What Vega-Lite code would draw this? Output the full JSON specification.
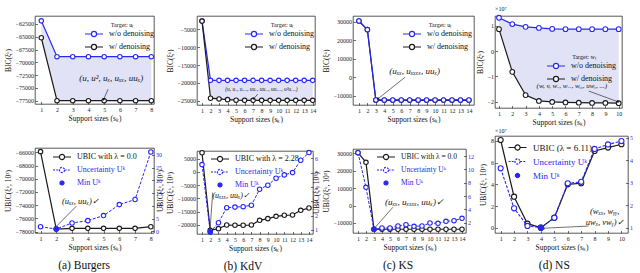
{
"$schema":"https://vega.github.io/schema/vega-lite/v6.json",
"padding":{"left":3,"top":3,"right":0,"bottom":0},
"config":{
 "font":"Liberation Serif",
 "view":{"stroke":"#111","strokeWidth":0.7},
 "axis":{"labelFont":"Liberation Serif","titleFont":"Liberation Serif","labelFontSize":6,"titleFontSize":7.5,"titleFontWeight":"normal","labelColor":"#222","titleColor":"#111","grid":false,"domain":false,"tickSize":-2.5,"tickWidth":0.6,"tickColor":"#111","labelFlush":false,"labelOverlap":false,"titlePadding":3},
 "axisX":{"labelPadding":5,"titlePadding":2},
 "axisY":{"labelPadding":4},
 "legend":{"labelFont":"Liberation Serif","titleFont":"Liberation Serif","labelFontSize":8,"titleFontSize":6,"titleFontWeight":"normal","labelColor":"#111","titleColor":"#111","padding":0,"rowPadding":3,"labelOffset":11,"titlePadding":2,"symbolStrokeWidth":1.2},
 "title":{"font":"Liberation Serif","fontWeight":"normal","color":"#111"}
},
"datasets":{
"top":[
{"p":"a","s":1,"wo":-61900,"w":-65200},{"p":"a","s":2,"wo":-68900,"w":-77500},{"p":"a","s":3,"wo":-68900,"w":-77500},{"p":"a","s":4,"wo":-68900,"w":-77500},{"p":"a","s":5,"wo":-68900,"w":-77500},{"p":"a","s":6,"wo":-68900,"w":-77500},{"p":"a","s":7,"wo":-68900,"w":-77500},{"p":"a","s":8,"wo":-68900,"w":-77500},
{"p":"b","s":1,"wo":-2700,"w":-2700},{"p":"b","s":2,"wo":-19300,"w":-24300},{"p":"b","s":3,"wo":-19300,"w":-24500},{"p":"b","s":4,"wo":-19300,"w":-24700},{"p":"b","s":5,"wo":-19300,"w":-24850},{"p":"b","s":6,"wo":-19300,"w":-24900},{"p":"b","s":7,"wo":-19300,"w":-24900},{"p":"b","s":8,"wo":-19300,"w":-24900},{"p":"b","s":9,"wo":-19300,"w":-24900},{"p":"b","s":10,"wo":-19300,"w":-24900},{"p":"b","s":11,"wo":-19300,"w":-24900},{"p":"b","s":12,"wo":-19300,"w":-24900},{"p":"b","s":13,"wo":-19300,"w":-24900},{"p":"b","s":14,"wo":-19300,"w":-24900},
{"p":"c","s":1,"wo":30400,"w":30400},{"p":"c","s":2,"wo":25700,"w":25700},{"p":"c","s":3,"wo":-12300,"w":-12500},{"p":"c","s":4,"wo":-12300,"w":-12500},{"p":"c","s":5,"wo":-12300,"w":-12500},{"p":"c","s":6,"wo":-12300,"w":-12500},{"p":"c","s":7,"wo":-12300,"w":-12500},{"p":"c","s":8,"wo":-12300,"w":-12500},{"p":"c","s":9,"wo":-12300,"w":-12500},{"p":"c","s":10,"wo":-12300,"w":-12500},{"p":"c","s":11,"wo":-12300,"w":-12500},{"p":"c","s":12,"wo":-12300,"w":-12500},{"p":"c","s":13,"wo":-12300,"w":-12500},{"p":"c","s":14,"wo":-12300,"w":-12500},
{"p":"d","s":1,"wo":1.32,"w":0.87},{"p":"d","s":2,"wo":1.07,"w":-0.82},{"p":"d","s":3,"wo":0.96,"w":-1.74},{"p":"d","s":4,"wo":0.92,"w":-1.97},{"p":"d","s":5,"wo":0.88,"w":-2.01},{"p":"d","s":6,"wo":0.87,"w":-2.03},{"p":"d","s":7,"wo":0.87,"w":-2.04},{"p":"d","s":8,"wo":0.87,"w":-2.05},{"p":"d","s":9,"wo":0.87,"w":-2.05},{"p":"d","s":10,"wo":0.87,"w":-2.06}
],
"bot":[
{"p":"a","s":1,"ubic":-65900,"unc":1.83},{"p":"a","s":2,"ubic":-77600,"unc":0.9},{"p":"a","s":3,"ubic":-77500,"unc":3.3},{"p":"a","s":4,"ubic":-77500,"unc":4.2},{"p":"a","s":5,"ubic":-77500,"unc":6.2},{"p":"a","s":6,"ubic":-77500,"unc":10.5},{"p":"a","s":7,"ubic":-77500,"unc":12.5},{"p":"a","s":8,"ubic":-77250,"unc":31.2},
{"p":"b","s":1,"ubic":7260,"unc":5.57},{"p":"b","s":2,"ubic":-22000,"unc":0.86},{"p":"b","s":3,"ubic":-21380,"unc":1.51},{"p":"b","s":4,"ubic":-20000,"unc":2.56},{"p":"b","s":5,"ubic":-20120,"unc":2.6},{"p":"b","s":6,"ubic":-20120,"unc":2.63},{"p":"b","s":7,"ubic":-20000,"unc":2.73},{"p":"b","s":8,"ubic":-18240,"unc":3.85},{"p":"b","s":9,"ubic":-17610,"unc":4.13},{"p":"b","s":10,"ubic":-16730,"unc":4.62},{"p":"b","s":11,"ubic":-16350,"unc":4.85},{"p":"b","s":12,"ubic":-16230,"unc":5.01},{"p":"b","s":13,"ubic":-14470,"unc":5.87},{"p":"b","s":14,"ubic":-13590,"unc":6.41},
{"p":"c","s":1,"ubic":30350,"unc":12.5},{"p":"c","s":2,"ubic":24830,"unc":7.3},{"p":"c","s":3,"ubic":-13600,"unc":1.0},{"p":"c","s":4,"ubic":-13600,"unc":1.2},{"p":"c","s":5,"ubic":-13600,"unc":1.2},{"p":"c","s":6,"ubic":-13600,"unc":1.5},{"p":"c","s":7,"ubic":-13600,"unc":1.7},{"p":"c","s":8,"ubic":-13600,"unc":1.45},{"p":"c","s":9,"ubic":-13600,"unc":1.5},{"p":"c","s":10,"ubic":-13600,"unc":1.95},{"p":"c","s":11,"ubic":-13600,"unc":1.9},{"p":"c","s":12,"ubic":-13600,"unc":2.2},{"p":"c","s":13,"ubic":-13600,"unc":2.3},{"p":"c","s":14,"ubic":-13600,"unc":2.65},
{"p":"d","s":1,"ubic":8.09,"unc":3.64},{"p":"d","s":2,"ubic":2.86,"unc":1.86},{"p":"d","s":3,"ubic":0.37,"unc":1.08},{"p":"d","s":4,"ubic":0.0,"unc":1.0},{"p":"d","s":5,"ubic":0.92,"unc":1.44},{"p":"d","s":6,"ubic":4.0,"unc":2.97},{"p":"d","s":7,"ubic":4.1,"unc":3.04},{"p":"d","s":8,"ubic":7.08,"unc":4.5},{"p":"d","s":9,"ubic":7.39,"unc":4.7},{"p":"d","s":10,"ubic":7.7,"unc":4.85}
],
"ann":[
{"p":"a1","tx":5.45,"ty":-73060,"ax":5.25,"ay":-75270,"bx":4.97,"by":-77220,"label":"(u, u², uₓ, uₓₓ, uuₓ)"},
{"p":"a2","tx":3.53,"ty":-73400,"ax":3.27,"ay":-74150,"bx":1.95,"by":-77330,"label":"(uₓₓ, uuₓ)✓"},
{"p":"b1","tx":7.98,"ty":-21800,"ax":7.55,"ay":-23120,"bx":7.08,"by":-24430,"label":"(u, uₓ, uₓₓₓ, uuₓ, uuₓₓ, uuₓₓₓ, u²uₓₓₓ)"},
{"p":"b2","tx":4.54,"ty":-9060,"ax":2.3,"ay":-7740,"bx":1.98,"by":-21600,"label":"(uₓₓₓ, uuₓ)✓"},
{"p":"c1","tx":7.58,"ty":3350,"ax":6.44,"ay":-50,"bx":3.27,"by":-11600,"label":"(uₓₓ, uₓₓₓₓ, uuₓ)"},
{"p":"c2","tx":8.06,"ty":2220,"ax":5.36,"ay":-1000,"bx":3.08,"by":-12900,"label":"(uₓₓ, uₓₓₓₓ, uuₓ)✓"},
{"p":"d1","tx":6.48,"ty":-1.38,"ax":7.75,"ay":-1.58,"bx":9.93,"by":-2.0,"label":"(w, v, wₓ, wₓₓ, wᵧᵧ, uwᵧ, ...)"},
{"p":"d2","tx":8.75,"ty":1.5,"ax":7.55,"ay":0.15,"bx":4.19,"by":-0.05,"label":"(wₓₓ, wᵧᵧ,\nuwₓ, vwᵧ)✓"}
]
},
"spacing":0,
"resolve":{"scale":{"stroke":"independent"},"legend":{"stroke":"independent"}},
"hconcat":[
{"title":{"text":"(a) Burgers","orient":"bottom","anchor":"middle","fontSize":11.5,"offset":9},"spacing":23,"resolve":{"scale":{"stroke":"independent"},"legend":{"stroke":"independent"}},"vconcat":[
 {"width":119,"height":88,"title":{"text":" ","fontSize":6,"offset":6},"data":{"name":"top"},"transform":[{"filter":"datum.p === 'a'"}],
  "encoding":{"x":{"field":"s","type":"quantitative","scale":{"domain":[0.6,8.17],"nice":false,"zero":false},"axis":{"values":[1,2,3,4,5,6,7,8],"tickCount":50,"format":"d"},"title":"Support sizes (sₖ)"}},
  "layer":[
   {"mark":{"type":"area","color":"#e2e2f7","opacity":1},"encoding":{"y":{"field":"wo","type":"quantitative","scale":{"domain":[-78150,-60950],"nice":false,"zero":false},"axis":{"values":[-77500,-75000,-72500,-70000,-67500,-65000,-62500],"format":"d","tickCount":50},"title":"BIC(ξᵏ)"},"y2":{"field":"w"}}},
   {"mark":{"type":"line","strokeWidth":1.2},"encoding":{"y":{"field":"wo","type":"quantitative","title":"BIC(ξᵏ)"},"stroke":{"datum":"w/o denoising","type":"nominal","scale":{"domain":["w/o denoising","w/ denoising"],"range":["#2828f5","#1a1a1a"]},"legend":{"orient":"none","legendX":55,"legendY":6,"title":"Target: uₜ","titleAnchor":"middle","symbolType":"M-3,0H-0.85M0.85,0H3M0.85,0A0.85,0.85,0,1,1,-0.85,0A0.85,0.85,0,1,1,0.85,0Z","symbolSize":36,"encode":{"symbols":{"update":{"fill":{"value":"white"},"shape":{"value":"M-3,0H-0.85M0.85,0H3M0.85,0A0.85,0.85,0,1,1,-0.85,0A0.85,0.85,0,1,1,0.85,0Z"}}}}}}}},
   {"mark":{"type":"line","strokeWidth":1.2},"encoding":{"y":{"field":"w","type":"quantitative","title":"BIC(ξᵏ)"},"stroke":{"datum":"w/ denoising","type":"nominal"}}},
   {"mark":{"type":"point","shape":"circle","filled":true,"fill":"white","strokeWidth":1.1,"size":20,"opacity":1},"encoding":{"y":{"field":"w","type":"quantitative","title":"BIC(ξᵏ)"},"stroke":{"datum":"w/ denoising","type":"nominal"}}},
   {"mark":{"type":"point","shape":"circle","filled":true,"fill":"white","strokeWidth":1.1,"size":20,"opacity":1},"encoding":{"y":{"field":"wo","type":"quantitative","title":"BIC(ξᵏ)"},"stroke":{"datum":"w/o denoising","type":"nominal"}}},
   {"data":{"name":"ann"},"transform":[{"filter":"datum.p === 'a1'"}],"layer":[
    {"mark":{"type":"rule","color":"#111","strokeWidth":0.6},"encoding":{"x":{"field":"ax","type":"quantitative","title":"Support sizes (sₖ)"},"y":{"field":"ay","type":"quantitative","title":"BIC(ξᵏ)"},"x2":{"field":"bx"},"y2":{"field":"by"}}},
    {"mark":{"type":"point","shape":"triangle","filled":true,"color":"#111","size":9,"opacity":1,"angle":203},"encoding":{"x":{"field":"bx","type":"quantitative","title":"Support sizes (sₖ)"},"y":{"field":"by","type":"quantitative","title":"BIC(ξᵏ)"}}},
    {"mark":{"type":"text","fontStyle":"italic","fontSize":9,"color":"#111"},"encoding":{"x":{"field":"tx","type":"quantitative","title":"Support sizes (sₖ)"},"y":{"field":"ty","type":"quantitative","title":"BIC(ξᵏ)"},"text":{"field":"label"}}}
   ]}
  ]},
 {"width":119,"height":85,"data":{"name":"bot"},"transform":[{"filter":"datum.p === 'a'"}],
  "encoding":{"x":{"field":"s","type":"quantitative","scale":{"domain":[0.65,8.2],"nice":false,"zero":false},"axis":{"values":[1,2,3,4,5,6,7,8],"tickCount":50,"format":"d"},"title":"Support sizes (sₖ)"}},
  "layer":[
   {"layer":[
    {"mark":{"type":"line","strokeWidth":1.2},"encoding":{"y":{"field":"ubic","type":"quantitative","scale":{"domain":[-78200,-65350],"nice":false,"zero":false},"axis":{"values":[-78000,-76000,-74000,-72000,-70000,-68000,-66000],"format":"d","tickCount":50},"title":"UBIC(ξᵏ, 10³)"},"stroke":{"datum":"UBIC with λ = 0.0","type":"nominal","scale":{"domain":["UBIC with λ = 0.0","Uncertainty Uᵏ","Min Uᵏ"],"range":["#1a1a1a","#2828f5","#2828f5"]},"legend":{"orient":"none","legendX":23,"legendY":5,"title":null,"symbolType":"M-3,0H-0.85M0.85,0H3M0.85,0A0.85,0.85,0,1,1,-0.85,0A0.85,0.85,0,1,1,0.85,0Z","symbolSize":36,"encode":{"symbols":{"update":{"shape":{"signal":"datum.value === 'Min Uᵏ' ? 'circle' : 'M-3,0H-0.85M0.85,0H3M0.85,0A0.85,0.85,0,1,1,-0.85,0A0.85,0.85,0,1,1,0.85,0Z'"},"size":{"signal":"datum.value === 'Min Uᵏ' ? 16 : 36"},"fill":{"signal":"datum.value === 'Min Uᵏ' ? '#2828f5' : 'white'"},"strokeDash":{"signal":"datum.value === 'Uncertainty Uᵏ' ? [2, 1.2] : [1, 0]"}}},"labels":{"update":{"fill":{"signal":"datum.value === 'Uncertainty Uᵏ' || datum.value === 'Min Uᵏ' ? '#2828f5' : '#111111'"}}}}}}}},
    {"mark":{"type":"point","shape":"circle","filled":true,"fill":"white","strokeWidth":1.1,"size":20,"opacity":1},"encoding":{"y":{"field":"ubic","type":"quantitative","title":"UBIC(ξᵏ, 10³)"},"stroke":{"datum":"UBIC with λ = 0.0","type":"nominal"}}},
    {"data":{"name":"ann"},"transform":[{"filter":"datum.p === 'a2'"}],"layer":[
     {"mark":{"type":"rule","color":"#111","strokeWidth":0.6},"encoding":{"x":{"field":"ax","type":"quantitative","title":"Support sizes (sₖ)"},"y":{"field":"ay","type":"quantitative","title":"UBIC(ξᵏ, 10³)"},"x2":{"field":"bx"},"y2":{"field":"by"}}},
     {"mark":{"type":"point","shape":"triangle","filled":true,"color":"#111","size":9,"opacity":1,"angle":225},"encoding":{"x":{"field":"bx","type":"quantitative","title":"Support sizes (sₖ)"},"y":{"field":"by","type":"quantitative","title":"UBIC(ξᵏ, 10³)"}}},
     {"mark":{"type":"text","fontStyle":"italic","fontSize":8.5,"color":"#111"},"encoding":{"x":{"field":"tx","type":"quantitative","title":"Support sizes (sₖ)"},"y":{"field":"ty","type":"quantitative","title":"UBIC(ξᵏ, 10³)"},"text":{"field":"label"}}}
    ]}
   ]},
   {"layer":[
    {"mark":{"type":"line","strokeWidth":1,"strokeDash":[3,1.5]},"encoding":{"y":{"field":"unc","type":"quantitative","scale":{"domain":[-0.65,32.75],"nice":false,"zero":false},"axis":{"orient":"right","values":[0,5,10,15,20,25,30],"format":"d","labelColor":"#2828f5","titleAngle":270,"tickCount":50},"title":"UBIC(ξᵏ, 10³)"},"stroke":{"datum":"Uncertainty Uᵏ","type":"nominal"}}},
    {"mark":{"type":"point","shape":"circle","filled":true,"fill":"white","strokeWidth":1.1,"size":20,"opacity":1},"encoding":{"y":{"field":"unc","type":"quantitative","title":"UBIC(ξᵏ, 10³)"},"stroke":{"datum":"Uncertainty Uᵏ","type":"nominal"}}},
    {"transform":[{"joinaggregate":[{"op":"min","field":"unc","as":"mn"}]},{"filter":"datum.unc === datum.mn"}],"mark":{"type":"point","shape":"circle","filled":true,"fill":"#2828f5","strokeWidth":0.8,"size":22,"opacity":1},"encoding":{"y":{"field":"unc","type":"quantitative","title":"UBIC(ξᵏ, 10³)"},"stroke":{"datum":"Min Uᵏ","type":"nominal"}}}
   ]}
  ],
  "resolve":{"scale":{"y":"independent"}}}
]},
{"title":{"text":"(b) KdV","orient":"bottom","anchor":"middle","fontSize":11.5,"offset":9},"spacing":23,"resolve":{"scale":{"stroke":"independent"},"legend":{"stroke":"independent"}},"vconcat":[
 {"width":118,"height":89,"title":{"text":" ","fontSize":6,"offset":6},"data":{"name":"top"},"transform":[{"filter":"datum.p === 'b'"}],
  "encoding":{"x":{"field":"s","type":"quantitative","scale":{"domain":[0.41,14.27],"nice":false,"zero":false},"axis":{"values":[1,2,3,4,5,6,7,8,9,10,11,12,13,14],"tickCount":50,"format":"d"},"title":"Support sizes (sₖ)"}},
  "layer":[
   {"mark":{"type":"area","color":"#e2e2f7","opacity":1},"encoding":{"y":{"field":"wo","type":"quantitative","scale":{"domain":[-26200,-1270],"nice":false,"zero":false},"axis":{"values":[-25000,-20000,-15000,-10000,-5000],"format":"d","tickCount":50},"title":"BIC(ξᵏ)"},"y2":{"field":"w"}}},
   {"mark":{"type":"line","strokeWidth":1.2},"encoding":{"y":{"field":"wo","type":"quantitative","title":"BIC(ξᵏ)"},"stroke":{"datum":"w/o denoising","type":"nominal","scale":{"domain":["w/o denoising","w/ denoising"],"range":["#2828f5","#1a1a1a"]},"legend":{"orient":"none","legendX":53,"legendY":6,"title":"Target: uₜ","titleAnchor":"middle","symbolType":"M-3,0H-0.85M0.85,0H3M0.85,0A0.85,0.85,0,1,1,-0.85,0A0.85,0.85,0,1,1,0.85,0Z","symbolSize":36,"encode":{"symbols":{"update":{"fill":{"value":"white"},"shape":{"value":"M-3,0H-0.85M0.85,0H3M0.85,0A0.85,0.85,0,1,1,-0.85,0A0.85,0.85,0,1,1,0.85,0Z"}}}}}}}},
   {"mark":{"type":"line","strokeWidth":1.2},"encoding":{"y":{"field":"w","type":"quantitative","title":"BIC(ξᵏ)"},"stroke":{"datum":"w/ denoising","type":"nominal"}}},
   {"mark":{"type":"point","shape":"circle","filled":true,"fill":"white","strokeWidth":1.1,"size":20,"opacity":1},"encoding":{"y":{"field":"wo","type":"quantitative","title":"BIC(ξᵏ)"},"stroke":{"datum":"w/o denoising","type":"nominal"}}},
   {"mark":{"type":"point","shape":"circle","filled":true,"fill":"white","strokeWidth":1.1,"size":20,"opacity":1},"encoding":{"y":{"field":"w","type":"quantitative","title":"BIC(ξᵏ)"},"stroke":{"datum":"w/ denoising","type":"nominal"}}},
   {"data":{"name":"ann"},"transform":[{"filter":"datum.p === 'b1'"}],"layer":[
    {"mark":{"type":"rule","color":"#111","strokeWidth":0.6},"encoding":{"x":{"field":"ax","type":"quantitative","title":"Support sizes (sₖ)"},"y":{"field":"ay","type":"quantitative","title":"BIC(ξᵏ)"},"x2":{"field":"bx"},"y2":{"field":"by"}}},
    {"mark":{"type":"point","shape":"triangle","filled":true,"color":"#111","size":7,"opacity":1,"angle":220},"encoding":{"x":{"field":"bx","type":"quantitative","title":"Support sizes (sₖ)"},"y":{"field":"by","type":"quantitative","title":"BIC(ξᵏ)"}}},
    {"mark":{"type":"text","fontStyle":"italic","fontSize":5.5,"color":"#111"},"encoding":{"x":{"field":"tx","type":"quantitative","title":"Support sizes (sₖ)"},"y":{"field":"ty","type":"quantitative","title":"BIC(ξᵏ)"},"text":{"field":"label"}}}
   ]}
  ]},
 {"width":116,"height":83,"data":{"name":"bot"},"transform":[{"filter":"datum.p === 'b'"}],
  "encoding":{"x":{"field":"s","type":"quantitative","scale":{"domain":[0.39,14.49],"nice":false,"zero":false},"axis":{"values":[1,2,3,4,5,6,7,8,9,10,11,12,13,14],"tickCount":50,"format":"d"},"title":"Support sizes (sₖ)"}},
  "layer":[
   {"layer":[
    {"mark":{"type":"line","strokeWidth":1.2},"encoding":{"y":{"field":"ubic","type":"quantitative","scale":{"domain":[-23400,7900],"nice":false,"zero":false},"axis":{"values":[-20000,-15000,-10000,-5000,0,5000],"format":"d","tickCount":50},"title":"UBIC(ξᵏ, 10³)"},"stroke":{"datum":"UBIC with λ = 2.28","type":"nominal","scale":{"domain":["UBIC with λ = 2.28","Uncertainty Uᵏ","Min Uᵏ"],"range":["#1a1a1a","#2828f5","#2828f5"]},"legend":{"orient":"none","legendX":19,"legendY":4,"title":null,"symbolType":"M-3,0H-0.85M0.85,0H3M0.85,0A0.85,0.85,0,1,1,-0.85,0A0.85,0.85,0,1,1,0.85,0Z","symbolSize":36,"encode":{"symbols":{"update":{"shape":{"signal":"datum.value === 'Min Uᵏ' ? 'circle' : 'M-3,0H-0.85M0.85,0H3M0.85,0A0.85,0.85,0,1,1,-0.85,0A0.85,0.85,0,1,1,0.85,0Z'"},"size":{"signal":"datum.value === 'Min Uᵏ' ? 16 : 36"},"fill":{"signal":"datum.value === 'Min Uᵏ' ? '#2828f5' : 'white'"},"strokeDash":{"signal":"datum.value === 'Uncertainty Uᵏ' ? [2, 1.2] : [1, 0]"}}},"labels":{"update":{"fill":{"signal":"datum.value === 'Uncertainty Uᵏ' || datum.value === 'Min Uᵏ' ? '#2828f5' : '#111111'"}}}}}}}},
    {"mark":{"type":"point","shape":"circle","filled":true,"fill":"white","strokeWidth":1.1,"size":20,"opacity":1},"encoding":{"y":{"field":"ubic","type":"quantitative","title":"UBIC(ξᵏ, 10³)"},"stroke":{"datum":"UBIC with λ = 2.28","type":"nominal"}}},
    {"data":{"name":"ann"},"transform":[{"filter":"datum.p === 'b2'"}],"layer":[
     {"mark":{"type":"rule","color":"#111","strokeWidth":0.6},"encoding":{"x":{"field":"ax","type":"quantitative","title":"Support sizes (sₖ)"},"y":{"field":"ay","type":"quantitative","title":"UBIC(ξᵏ, 10³)"},"x2":{"field":"bx"},"y2":{"field":"by"}}},
     {"mark":{"type":"point","shape":"triangle","filled":true,"color":"#111","size":9,"opacity":1,"angle":184},"encoding":{"x":{"field":"bx","type":"quantitative","title":"Support sizes (sₖ)"},"y":{"field":"by","type":"quantitative","title":"UBIC(ξᵏ, 10³)"}}},
     {"mark":{"type":"text","fontStyle":"italic","fontSize":8,"color":"#111"},"encoding":{"x":{"field":"tx","type":"quantitative","title":"Support sizes (sₖ)"},"y":{"field":"ty","type":"quantitative","title":"UBIC(ξᵏ, 10³)"},"text":{"field":"label"}}}
    ]}
   ]},
   {"layer":[
    {"mark":{"type":"line","strokeWidth":1,"strokeDash":[3,1.5]},"encoding":{"y":{"field":"unc","type":"quantitative","scale":{"domain":[0.72,6.52],"nice":false,"zero":false},"axis":{"orient":"right","values":[1,2,3,4,5,6],"format":"d","labelColor":"#2828f5","titleAngle":270,"tickCount":50},"title":"UBIC(ξᵏ, 10³)"},"stroke":{"datum":"Uncertainty Uᵏ","type":"nominal"}}},
    {"mark":{"type":"point","shape":"circle","filled":true,"fill":"white","strokeWidth":1.1,"size":20,"opacity":1},"encoding":{"y":{"field":"unc","type":"quantitative","title":"UBIC(ξᵏ, 10³)"},"stroke":{"datum":"Uncertainty Uᵏ","type":"nominal"}}},
    {"transform":[{"joinaggregate":[{"op":"min","field":"unc","as":"mn"}]},{"filter":"datum.unc === datum.mn"}],"mark":{"type":"point","shape":"circle","filled":true,"fill":"#2828f5","strokeWidth":0.8,"size":22,"opacity":1},"encoding":{"y":{"field":"unc","type":"quantitative","title":"UBIC(ξᵏ, 10³)"},"stroke":{"datum":"Min Uᵏ","type":"nominal"}}}
   ]}
  ],
  "resolve":{"scale":{"y":"independent"}}}
]},
{"title":{"text":"(c) KS","orient":"bottom","anchor":"middle","fontSize":11.5,"offset":9},"spacing":23,"resolve":{"scale":{"stroke":"independent"},"legend":{"stroke":"independent"}},"vconcat":[
 {"width":121,"height":89,"title":{"text":" ","fontSize":6,"offset":6},"data":{"name":"top"},"transform":[{"filter":"datum.p === 'c'"}],
  "encoding":{"x":{"field":"s","type":"quantitative","scale":{"domain":[0.3,14.6],"nice":false,"zero":false},"axis":{"values":[1,2,3,4,5,6,7,8,9,10,11,12,13,14],"tickCount":50,"format":"d"},"title":"Support sizes (sₖ)"}},
  "layer":[
   {"mark":{"type":"area","color":"#e2e2f7","opacity":1},"encoding":{"y":{"field":"wo","type":"quantitative","scale":{"domain":[-15030,33080],"nice":false,"zero":false},"axis":{"values":[-10000,0,10000,20000,30000],"format":"d","tickCount":50},"title":"BIC(ξᵏ)"},"y2":{"field":"w"}}},
   {"mark":{"type":"line","strokeWidth":1.2},"encoding":{"y":{"field":"w","type":"quantitative","title":"BIC(ξᵏ)"},"stroke":{"datum":"w/ denoising","type":"nominal"}}},
   {"mark":{"type":"line","strokeWidth":1.2},"encoding":{"y":{"field":"wo","type":"quantitative","title":"BIC(ξᵏ)"},"stroke":{"datum":"w/o denoising","type":"nominal","scale":{"domain":["w/o denoising","w/ denoising"],"range":["#2828f5","#1a1a1a"]},"legend":{"orient":"none","legendX":55,"legendY":6,"title":"Target: uₜ","titleAnchor":"middle","symbolType":"M-3,0H-0.85M0.85,0H3M0.85,0A0.85,0.85,0,1,1,-0.85,0A0.85,0.85,0,1,1,0.85,0Z","symbolSize":36,"encode":{"symbols":{"update":{"fill":{"value":"white"},"shape":{"value":"M-3,0H-0.85M0.85,0H3M0.85,0A0.85,0.85,0,1,1,-0.85,0A0.85,0.85,0,1,1,0.85,0Z"}}}}}}}},
   {"mark":{"type":"point","shape":"circle","filled":true,"fill":"white","strokeWidth":1.1,"size":20,"opacity":1},"encoding":{"y":{"field":"w","type":"quantitative","title":"BIC(ξᵏ)"},"stroke":{"datum":"w/ denoising","type":"nominal"}}},
   {"mark":{"type":"point","shape":"circle","filled":true,"fill":"white","strokeWidth":1.1,"size":20,"opacity":1},"encoding":{"y":{"field":"wo","type":"quantitative","title":"BIC(ξᵏ)"},"stroke":{"datum":"w/o denoising","type":"nominal"}}},
   {"data":{"name":"ann"},"transform":[{"filter":"datum.p === 'c1'"}],"layer":[
    {"mark":{"type":"rule","color":"#111","strokeWidth":0.6},"encoding":{"x":{"field":"ax","type":"quantitative","title":"Support sizes (sₖ)"},"y":{"field":"ay","type":"quantitative","title":"BIC(ξᵏ)"},"x2":{"field":"bx"},"y2":{"field":"by"}}},
    {"mark":{"type":"point","shape":"triangle","filled":true,"color":"#111","size":9,"opacity":1,"angle":231},"encoding":{"x":{"field":"bx","type":"quantitative","title":"Support sizes (sₖ)"},"y":{"field":"by","type":"quantitative","title":"BIC(ξᵏ)"}}},
    {"mark":{"type":"text","fontStyle":"italic","fontSize":9,"color":"#111"},"encoding":{"x":{"field":"tx","type":"quantitative","title":"Support sizes (sₖ)"},"y":{"field":"ty","type":"quantitative","title":"BIC(ξᵏ)"},"text":{"field":"label"}}}
   ]}
  ]},
 {"width":113,"height":84,"data":{"name":"bot"},"transform":[{"filter":"datum.p === 'c'"}],
  "encoding":{"x":{"field":"s","type":"quantitative","scale":{"domain":[0.38,14.5],"nice":false,"zero":false},"axis":{"values":[1,2,3,4,5,6,7,8,9,10,11,12,13,14],"tickCount":50,"format":"d"},"title":"Support sizes (sₖ)"}},
  "layer":[
   {"layer":[
    {"mark":{"type":"line","strokeWidth":1.2},"encoding":{"y":{"field":"ubic","type":"quantitative","scale":{"domain":[-15740,32470],"nice":false,"zero":false},"axis":{"values":[-10000,0,10000,20000,30000],"format":"d","tickCount":50},"title":"UBIC(ξᵏ, 10³)"},"stroke":{"datum":"UBIC with λ = 0.0","type":"nominal","scale":{"domain":["UBIC with λ = 0.0","Uncertainty Uᵏ","Min Uᵏ"],"range":["#1a1a1a","#2828f5","#2828f5"]},"legend":{"orient":"none","legendX":29,"legendY":4,"title":null,"labelFontSize":7.5,"symbolType":"M-3,0H-0.85M0.85,0H3M0.85,0A0.85,0.85,0,1,1,-0.85,0A0.85,0.85,0,1,1,0.85,0Z","symbolSize":36,"encode":{"symbols":{"update":{"shape":{"signal":"datum.value === 'Min Uᵏ' ? 'circle' : 'M-3,0H-0.85M0.85,0H3M0.85,0A0.85,0.85,0,1,1,-0.85,0A0.85,0.85,0,1,1,0.85,0Z'"},"size":{"signal":"datum.value === 'Min Uᵏ' ? 16 : 36"},"fill":{"signal":"datum.value === 'Min Uᵏ' ? '#2828f5' : 'white'"},"strokeDash":{"signal":"datum.value === 'Uncertainty Uᵏ' ? [2, 1.2] : [1, 0]"}}},"labels":{"update":{"fill":{"signal":"datum.value === 'Uncertainty Uᵏ' || datum.value === 'Min Uᵏ' ? '#2828f5' : '#111111'"}}}}}}}},
    {"mark":{"type":"point","shape":"circle","filled":true,"fill":"white","strokeWidth":1.1,"size":20,"opacity":1},"encoding":{"y":{"field":"ubic","type":"quantitative","title":"UBIC(ξᵏ, 10³)"},"stroke":{"datum":"UBIC with λ = 0.0","type":"nominal"}}},
    {"data":{"name":"ann"},"transform":[{"filter":"datum.p === 'c2'"}],"layer":[
     {"mark":{"type":"rule","color":"#111","strokeWidth":0.6},"encoding":{"x":{"field":"ax","type":"quantitative","title":"Support sizes (sₖ)"},"y":{"field":"ay","type":"quantitative","title":"UBIC(ξᵏ, 10³)"},"x2":{"field":"bx"},"y2":{"field":"by"}}},
     {"mark":{"type":"point","shape":"triangle","filled":true,"color":"#111","size":9,"opacity":1,"angle":221},"encoding":{"x":{"field":"bx","type":"quantitative","title":"Support sizes (sₖ)"},"y":{"field":"by","type":"quantitative","title":"UBIC(ξᵏ, 10³)"}}},
     {"mark":{"type":"text","fontStyle":"italic","fontSize":9,"color":"#111"},"encoding":{"x":{"field":"tx","type":"quantitative","title":"Support sizes (sₖ)"},"y":{"field":"ty","type":"quantitative","title":"UBIC(ξᵏ, 10³)"},"text":{"field":"label"}}}
    ]}
   ]},
   {"layer":[
    {"mark":{"type":"line","strokeWidth":1,"strokeDash":[3,1.5]},"encoding":{"y":{"field":"unc","type":"quantitative","scale":{"domain":[0.45,13.05],"nice":false,"zero":false},"axis":{"orient":"right","values":[2,4,6,8,10,12],"format":"d","labelColor":"#2828f5","title":null,"tickCount":50},"title":"UBIC(ξᵏ, 10³)"},"stroke":{"datum":"Uncertainty Uᵏ","type":"nominal"}}},
    {"mark":{"type":"point","shape":"circle","filled":true,"fill":"white","strokeWidth":1.1,"size":20,"opacity":1},"encoding":{"y":{"field":"unc","type":"quantitative","title":"UBIC(ξᵏ, 10³)"},"stroke":{"datum":"Uncertainty Uᵏ","type":"nominal"}}},
    {"transform":[{"joinaggregate":[{"op":"min","field":"unc","as":"mn"}]},{"filter":"datum.unc === datum.mn"}],"mark":{"type":"point","shape":"circle","filled":true,"fill":"#2828f5","strokeWidth":0.8,"size":22,"opacity":1},"encoding":{"y":{"field":"unc","type":"quantitative","title":"UBIC(ξᵏ, 10³)"},"stroke":{"datum":"Min Uᵏ","type":"nominal"}}}
   ]}
  ],
  "resolve":{"scale":{"y":"independent"}}}
]},
{"title":{"text":"(d) NS","orient":"bottom","anchor":"middle","fontSize":11.5,"offset":9},"spacing":0,"resolve":{"scale":{"stroke":"independent"},"legend":{"stroke":"independent"}},"vconcat":[
 {"width":127,"height":92,"title":{"text":"×10⁷","fontSize":6,"offset":1,"anchor":"start","frame":"group"},"data":{"name":"top"},"transform":[{"filter":"datum.p === 'd'"}],
  "encoding":{"x":{"field":"s","type":"quantitative","scale":{"domain":[0.7,10.25],"nice":false,"zero":false},"axis":{"values":[1,2,3,4,5,6,7,8,9,10],"tickCount":50,"format":"d"},"title":"Support sizes (sₖ)"}},
  "layer":[
   {"mark":{"type":"area","color":"#e2e2f7","opacity":1},"encoding":{"y":{"field":"wo","type":"quantitative","scale":{"domain":[-2.25,1.39],"nice":false,"zero":false},"axis":{"values":[-2,-1,0,1],"format":"d","tickCount":50},"title":"BIC(ξᵏ)"},"y2":{"field":"w"}}},
   {"mark":{"type":"line","strokeWidth":1.2},"encoding":{"y":{"field":"wo","type":"quantitative","title":"BIC(ξᵏ)"},"stroke":{"datum":"w/o denoising","type":"nominal","scale":{"domain":["w/o denoising","w/ denoising"],"range":["#2828f5","#1a1a1a"]},"legend":{"orient":"none","legendX":57,"legendY":38,"title":"Target: wₜ","titleAnchor":"middle","symbolType":"M-3,0H-0.85M0.85,0H3M0.85,0A0.85,0.85,0,1,1,-0.85,0A0.85,0.85,0,1,1,0.85,0Z","symbolSize":36,"encode":{"symbols":{"update":{"fill":{"value":"white"},"shape":{"value":"M-3,0H-0.85M0.85,0H3M0.85,0A0.85,0.85,0,1,1,-0.85,0A0.85,0.85,0,1,1,0.85,0Z"}}}}}}}},
   {"mark":{"type":"line","strokeWidth":1.2},"encoding":{"y":{"field":"w","type":"quantitative","title":"BIC(ξᵏ)"},"stroke":{"datum":"w/ denoising","type":"nominal"}}},
   {"mark":{"type":"point","shape":"circle","filled":true,"fill":"white","strokeWidth":1.1,"size":22,"opacity":1},"encoding":{"y":{"field":"wo","type":"quantitative","title":"BIC(ξᵏ)"},"stroke":{"datum":"w/o denoising","type":"nominal"}}},
   {"mark":{"type":"point","shape":"circle","filled":true,"fill":"white","strokeWidth":1.1,"size":22,"opacity":1},"encoding":{"y":{"field":"w","type":"quantitative","title":"BIC(ξᵏ)"},"stroke":{"datum":"w/ denoising","type":"nominal"}}},
   {"data":{"name":"ann"},"transform":[{"filter":"datum.p === 'd1'"}],"layer":[
    {"mark":{"type":"rule","color":"#111","strokeWidth":0.6},"encoding":{"x":{"field":"ax","type":"quantitative","title":"Support sizes (sₖ)"},"y":{"field":"ay","type":"quantitative","title":"BIC(ξᵏ)"},"x2":{"field":"bx"},"y2":{"field":"by"}}},
    {"mark":{"type":"point","shape":"triangle","filled":true,"color":"#111","size":9,"opacity":1,"angle":110},"encoding":{"x":{"field":"bx","type":"quantitative","title":"Support sizes (sₖ)"},"y":{"field":"by","type":"quantitative","title":"BIC(ξᵏ)"}}},
    {"mark":{"type":"text","fontStyle":"italic","fontSize":7,"color":"#111"},"encoding":{"x":{"field":"tx","type":"quantitative","title":"Support sizes (sₖ)"},"y":{"field":"ty","type":"quantitative","title":"BIC(ξᵏ)"},"text":{"field":"label"}}}
   ]}
  ]},
 {"width":133,"height":97,"title":{"text":"×10⁷","fontSize":6,"offset":1,"anchor":"start","frame":"group"},"data":{"name":"bot"},"transform":[{"filter":"datum.p === 'd'"}],
  "encoding":{"x":{"field":"s","type":"quantitative","scale":{"domain":[0.58,10.49],"nice":false,"zero":false},"axis":{"values":[1,2,3,4,5,6,7,8,9,10],"tickCount":50,"format":"d"},"title":"Support sizes (sₖ)"}},
  "layer":[
   {"layer":[
    {"mark":{"type":"line","strokeWidth":1.2},"encoding":{"y":{"field":"ubic","type":"quantitative","scale":{"domain":[-0.49,8.46],"nice":false,"zero":false},"axis":{"values":[0,2,4,6,8],"format":"d","tickCount":50},"title":"UBIC(ξᵏ, 10³)"},"stroke":{"datum":"UBIC (λ = 6.11)","type":"nominal","scale":{"domain":["UBIC (λ = 6.11)","Uncertainty Uᵏ","Min Uᵏ"],"range":["#1a1a1a","#2828f5","#2828f5"]},"legend":{"orient":"none","legendX":18,"legendY":7,"title":null,"labelFontSize":9,"symbolType":"M-3,0H-0.85M0.85,0H3M0.85,0A0.85,0.85,0,1,1,-0.85,0A0.85,0.85,0,1,1,0.85,0Z","symbolSize":36,"encode":{"symbols":{"update":{"shape":{"signal":"datum.value === 'Min Uᵏ' ? 'circle' : 'M-3,0H-0.85M0.85,0H3M0.85,0A0.85,0.85,0,1,1,-0.85,0A0.85,0.85,0,1,1,0.85,0Z'"},"size":{"signal":"datum.value === 'Min Uᵏ' ? 18 : 36"},"fill":{"signal":"datum.value === 'Min Uᵏ' ? '#2828f5' : 'white'"},"strokeDash":{"signal":"datum.value === 'Uncertainty Uᵏ' ? [2, 1.2] : [1, 0]"}}},"labels":{"update":{"fill":{"signal":"datum.value === 'Uncertainty Uᵏ' || datum.value === 'Min Uᵏ' ? '#2828f5' : '#111111'"}}}}}}}},
    {"mark":{"type":"point","shape":"circle","filled":true,"fill":"white","strokeWidth":1.1,"size":26,"opacity":1},"encoding":{"y":{"field":"ubic","type":"quantitative","title":"UBIC(ξᵏ, 10³)"},"stroke":{"datum":"UBIC (λ = 6.11)","type":"nominal"}}},
    {"data":{"name":"ann"},"transform":[{"filter":"datum.p === 'd2'"}],"layer":[
     {"mark":{"type":"rule","color":"#111","strokeWidth":0.6},"encoding":{"x":{"field":"ax","type":"quantitative","title":"Support sizes (sₖ)"},"y":{"field":"ay","type":"quantitative","title":"UBIC(ξᵏ, 10³)"},"x2":{"field":"bx"},"y2":{"field":"by"}}},
     {"mark":{"type":"point","shape":"triangle","filled":true,"color":"#111","size":9,"opacity":1,"angle":267},"encoding":{"x":{"field":"bx","type":"quantitative","title":"Support sizes (sₖ)"},"y":{"field":"by","type":"quantitative","title":"UBIC(ξᵏ, 10³)"}}},
     {"mark":{"type":"text","fontStyle":"italic","fontSize":8.5,"color":"#111","lineBreak":"\n"},"encoding":{"x":{"field":"tx","type":"quantitative","title":"Support sizes (sₖ)"},"y":{"field":"ty","type":"quantitative","title":"UBIC(ξᵏ, 10³)"},"text":{"field":"label"}}}
    ]}
   ]},
   {"layer":[
    {"mark":{"type":"line","strokeWidth":1.1,"strokeDash":[3,1.5]},"encoding":{"y":{"field":"unc","type":"quantitative","scale":{"domain":[0.764,5.075],"nice":false,"zero":false},"axis":{"orient":"right","values":[1,2,3,4,5],"format":"d","labelColor":"#2828f5","title":null,"tickCount":50},"title":"UBIC(ξᵏ, 10³)"},"stroke":{"datum":"Uncertainty Uᵏ","type":"nominal"}}},
    {"mark":{"type":"point","shape":"circle","filled":true,"fill":"white","strokeWidth":1.1,"size":26,"opacity":1},"encoding":{"y":{"field":"unc","type":"quantitative","title":"UBIC(ξᵏ, 10³)"},"stroke":{"datum":"Uncertainty Uᵏ","type":"nominal"}}},
    {"transform":[{"joinaggregate":[{"op":"min","field":"unc","as":"mn"}]},{"filter":"datum.unc === datum.mn"}],"mark":{"type":"point","shape":"circle","filled":true,"fill":"#2828f5","strokeWidth":0.8,"size":26,"opacity":1},"encoding":{"y":{"field":"unc","type":"quantitative","title":"UBIC(ξᵏ, 10³)"},"stroke":{"datum":"Min Uᵏ","type":"nominal"}}}
   ]}
  ],
  "resolve":{"scale":{"y":"independent"}}}
]}
]
}
